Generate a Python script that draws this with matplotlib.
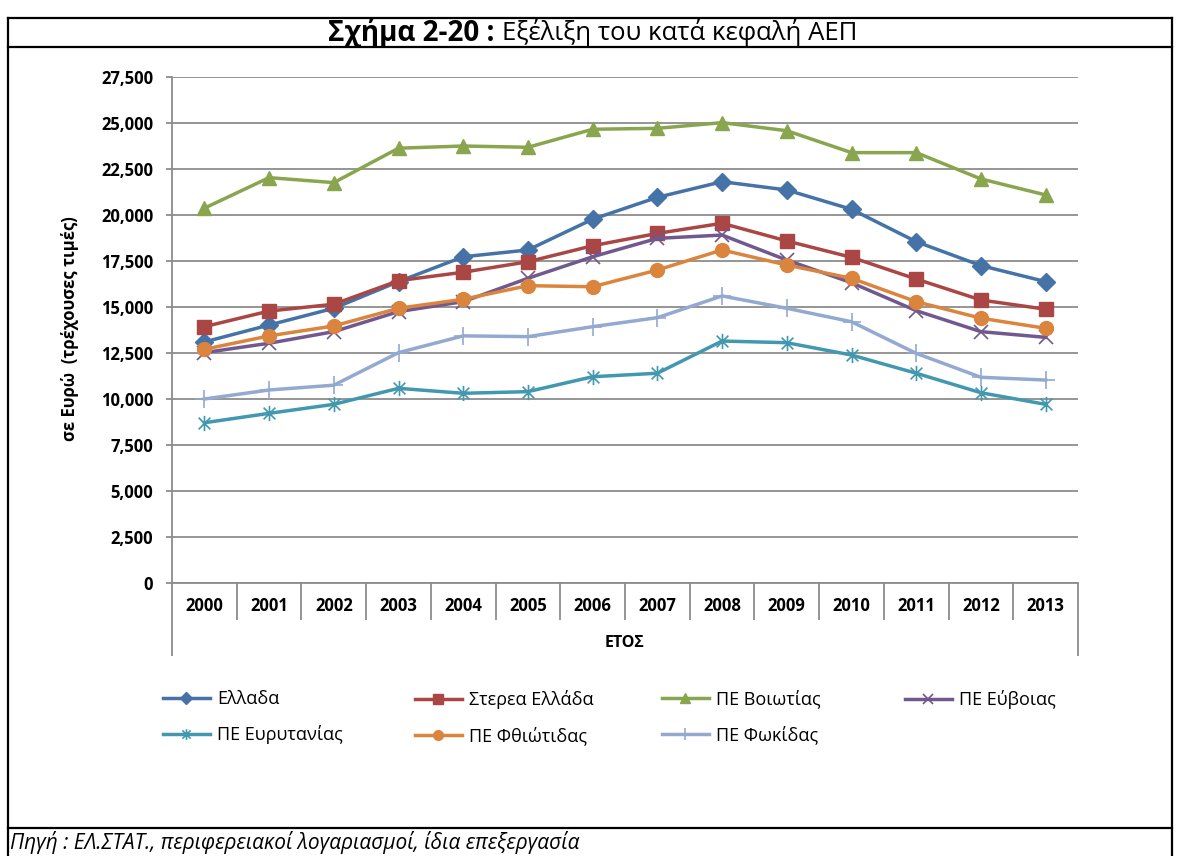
import matplotlib
matplotlib.use('Agg')
import matplotlib.pyplot as plt
from matplotlib.lines import Line2D
from matplotlib.path import Path
import numpy as np

plt.rcParams['font.family'] = ['Open Sans', 'DejaVu Sans']

# ----------------------------- data -----------------------------
years = [str(y) for y in range(2000, 2014)]
ellada = [13100, 14020, 14930, 16380, 17730, 18100, 19770, 20960, 21810, 21360, 20310, 18550, 17250, 16380]
sterea = [13930, 14780, 15150, 16430, 16890, 17460, 18330, 19000, 19550, 18590, 17700, 16520, 15380, 14880]
voiotia = [20370, 22030, 21760, 23630, 23750, 23680, 24660, 24710, 25020, 24580, 23390, 23390, 21960, 21090]
evoia = [12520, 13030, 13660, 14750, 15290, 16560, 17730, 18730, 18910, 17550, 16320, 14800, 13660, 13350]
evrytania = [8710, 9220, 9710, 10580, 10310, 10400, 11210, 11400, 13150, 13060, 12390, 11400, 10340, 9710]
fthiotida = [12700, 13430, 13970, 14930, 15420, 16160, 16100, 17010, 18100, 17280, 16560, 15290, 14390, 13840]
fokida = [10000, 10490, 10750, 12520, 13430, 13390, 13930, 14420, 15600, 14930, 14200, 12480, 11180, 11030]

names = ['Ελλαδα', 'Στερεα Ελλάδα', 'ΠΕ Βοιωτίας', 'ΠΕ Εύβοιας',
         'ΠΕ Ευρυτανίας', 'ΠΕ Φθιώτιδας', 'ΠΕ Φωκίδας']
series = [ellada, sterea, voiotia, evoia, evrytania, fthiotida, fokida]
colors = ['#4572A7', '#AA4643', '#89A54E', '#71588F', '#4198AF', '#DB843D', '#93A9CF']

# excel style asterisk: an x plus a vertical bar
star = Path([(-1, -1), (1, 1), (-1, 1), (1, -1), (0, -1.3), (0, 1.3)],
            [Path.MOVETO, Path.LINETO, Path.MOVETO, Path.LINETO, Path.MOVETO, Path.LINETO])
markers = ['D', 's', '^', 'x', star, 'o', '+']
msizes = [9, 9.5, 10.5, 10, 11, 10, 13]
mews = [1, 1, 1, 1.2, 1.2, 1, 1.2]

W, H = 1178, 856
def fx(px): return px / W
def fy(py): return 1 - py / H

fig = plt.figure(figsize=(W / 100, H / 100), dpi=100)
ax = fig.add_axes([fx(172), fy(583), (1078 - 172) / W, (583 - 77) / H])

x = np.arange(len(years))
for vals, c, m, ms, mew in zip(series, colors, markers, msizes, mews):
    ax.plot(x, vals, color=c, lw=2.5, marker=m, ms=ms, mfc=c, mec=c, mew=mew, zorder=3)

grid_c = '#8C8C8C'
ax.set_xlim(-0.5, len(years) - 0.5)
ax.set_ylim(0, 27500)
ax.set_yticks(np.arange(0, 27501, 2500))
ax.set_yticklabels([f'{v:,.0f}' for v in np.arange(0, 27501, 2500)], fontweight='bold')
ax.yaxis.grid(True, color=grid_c, lw=1.3)
ax.set_axisbelow(True)
for s in ['top', 'right', 'bottom']:
    ax.spines[s].set_visible(False)
ax.spines['left'].set_color(grid_c)
ax.spines['left'].set_linewidth(1.3)
ax.tick_params(axis='y', direction='out', length=4.5, width=1.3, color=grid_c, labelsize=12, pad=9)
ax.axhline(0, color=grid_c, lw=1.3, clip_on=False, zorder=2)

ax.set_xticks(x)
ax.set_xticklabels(years, fontweight='bold')
ax.tick_params(axis='x', length=0, labelsize=12, pad=10)

xt = ax.get_xaxis_transform()
ax.vlines(np.arange(0.5, len(years) - 1, 1), -0.073, 0, transform=xt, color=grid_c, lw=1.3, clip_on=False)
ax.vlines([-0.5, len(years) - 0.5], -0.145, 0, transform=xt, color=grid_c, lw=1.3, clip_on=False)
ax.text(0.5, -(643 - 583) / 506, 'ΕΤΟΣ', transform=ax.transAxes, ha='center', va='center',
        fontsize=11.5, fontweight='bold')

fig.text(fx(70), fy(329), 'σε Ευρώ  (τρέχουσες τιμές)', rotation=90, ha='center', va='center',
         fontsize=12, fontweight='bold')

# legend, four columns laid out like the excel one
handles = [Line2D([], [], color=c, lw=2.5, marker=m, ms=ms * 0.7, mfc=c, mec=c, mew=mew)
           for c, m, ms, mew in zip(colors, markers, msizes, mews)]
cols = [[0, 4], [1, 5], [2, 6], [3]]
col_x = [163, 415, 662, 905]
for idx, cx in zip(cols, col_x):
    fig.legend([handles[i] for i in idx], [names[i] for i in idx], loc='upper left',
               bbox_to_anchor=(fx(cx), fy(690)), frameon=False, fontsize=13,
               handlelength=2.6, handletextpad=0.4, labelspacing=0.95,
               borderpad=0, borderaxespad=0)

# title and source
fig.text(fx(495), fy(33), 'Σχήμα 2-20 :', ha='right', va='center', fontsize=20, fontweight='bold')
fig.text(fx(502), fy(33), 'Εξέλιξη του κατά κεφαλή ΑΕΠ', ha='left', va='center', fontsize=18.5)
fig.text(fx(10), fy(842), 'Πηγή : ΕΛ.ΣΤΑΤ., περιφερειακοί λογαριασμοί, ίδια επεξεργασία',
         ha='left', va='center', fontsize=15, fontstyle='italic')

# frame around the figure
frame = [((8, 18), (1172, 18)), ((8, 47), (1172, 47)), ((8, 828), (1172, 828)),
         ((8, 18), (8, 856)), ((1172, 18), (1172, 856))]
for (x0, y0), (x1, y1) in frame:
    fig.add_artist(Line2D([fx(x0), fx(x1)], [fy(y0), fy(y1)], color='black', lw=1.6))

fig.savefig('out.png', dpi=100)
